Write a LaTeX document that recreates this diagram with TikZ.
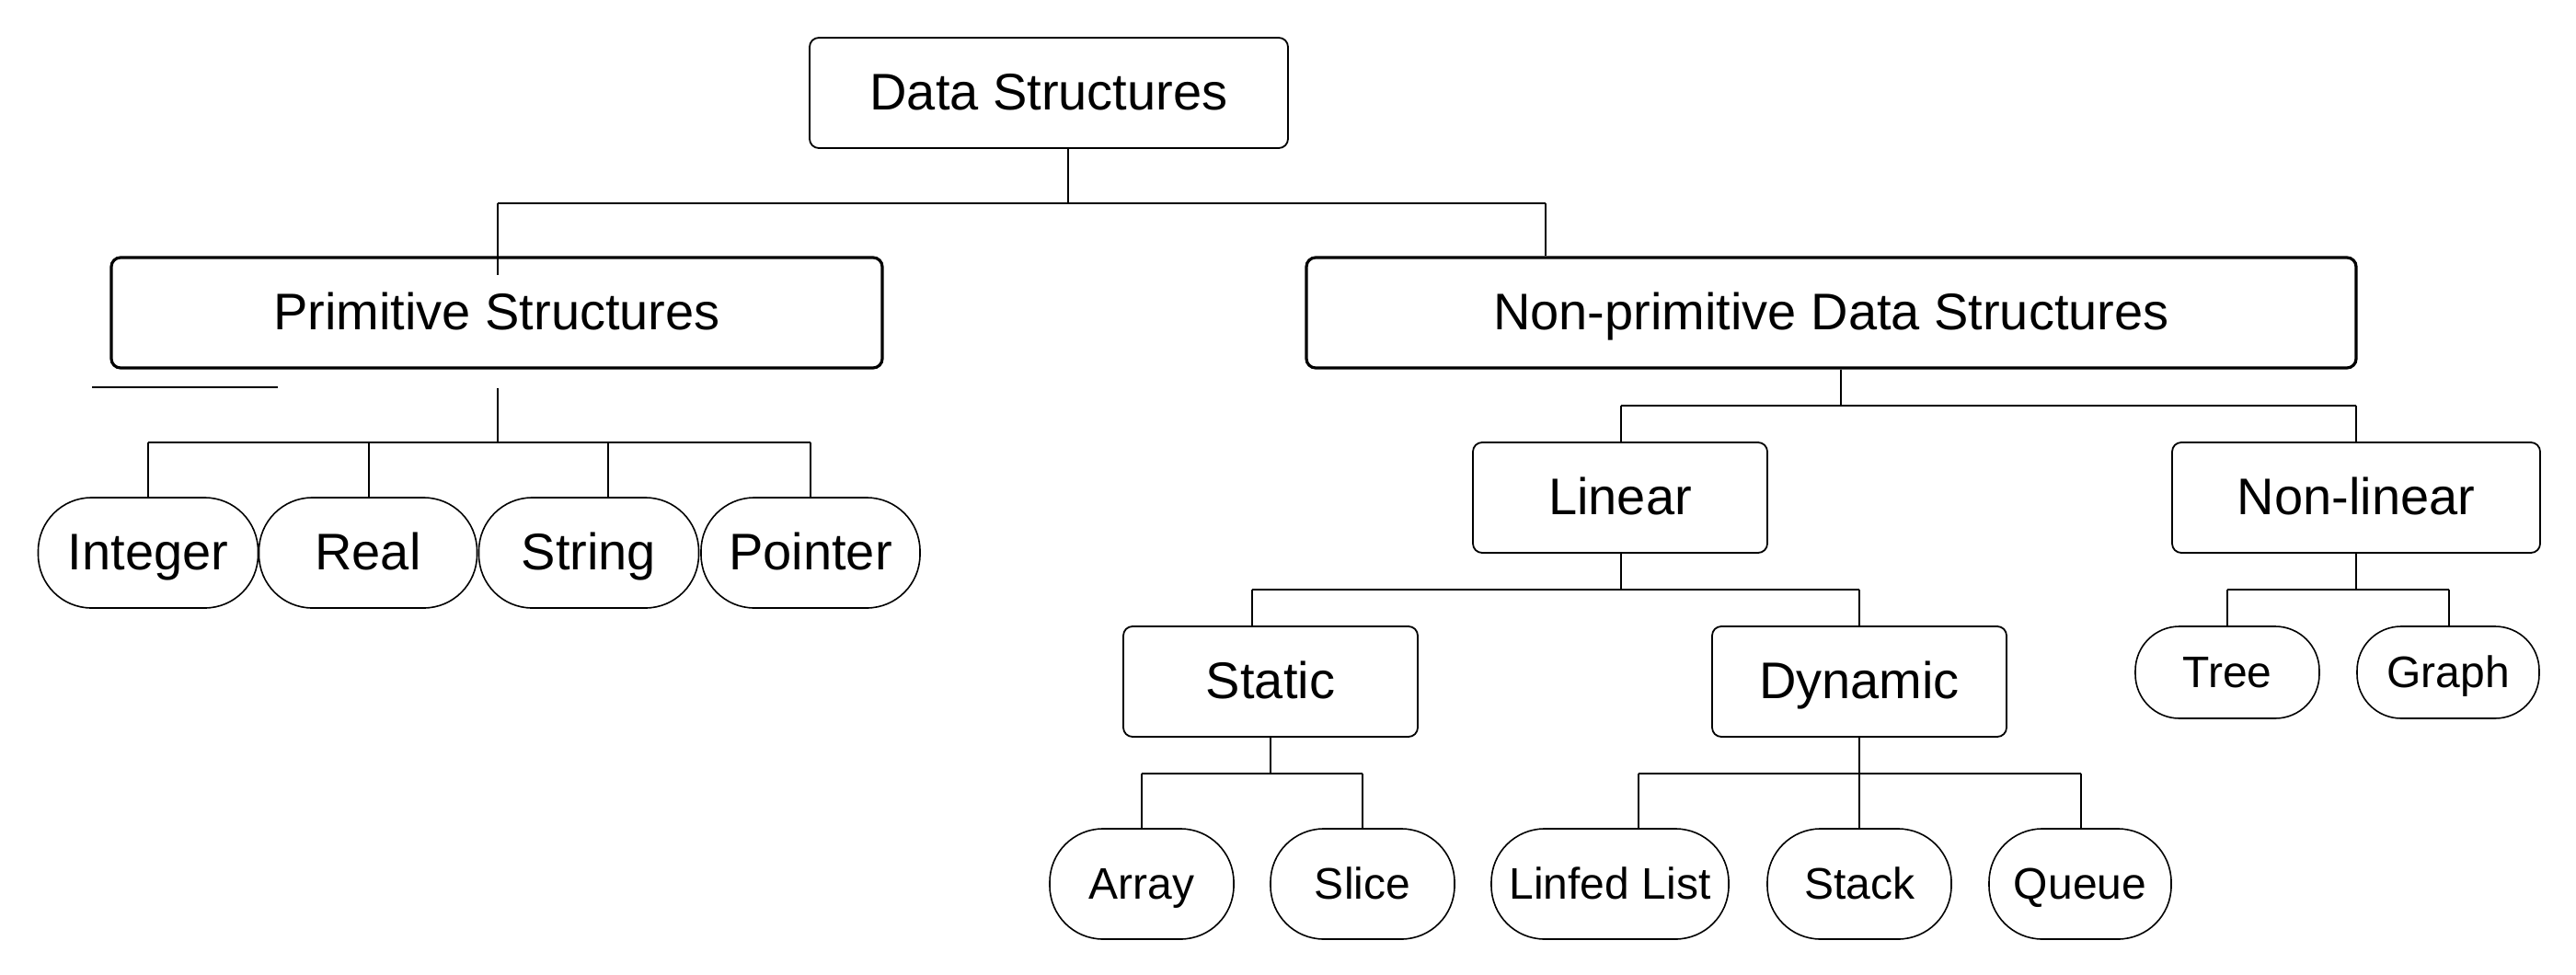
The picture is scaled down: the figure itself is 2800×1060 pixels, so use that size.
\documentclass[tikz,border=0pt]{standalone}
\usepackage{fontspec}
\setmainfont{Liberation Sans}
\usetikzlibrary{calc}
\tikzset{
  base/.style={draw, inner sep=0pt, align=center},
  bigfont/.style={font=\fontsize{28}{32}\selectfont, text height=20pt, text depth=1.5pt},
  smallfont/.style={font=\fontsize{24}{28}\selectfont, text height=17.2pt, text depth=1.2pt},
  box/.style={base, bigfont, rounded corners=5pt, line width=0.9pt, minimum height=60pt},
  bigbox/.style={box, line width=1.6pt},
  leaf/.style={base, bigfont, rounded corners=29pt, line width=0.8pt, minimum height=60pt},
  sleaf/.style={base, smallfont, rounded corners=29pt, line width=0.8pt, minimum height=60pt},
  tleaf/.style={base, smallfont, rounded corners=24pt, line width=0.8pt, minimum height=50pt},
  conn/.style={line width=0.9pt},
  bar/.style={line width=1.1pt},
}
\begin{document}
\begin{tikzpicture}[x=0.5pt,y=-0.5pt]
\useasboundingbox (0,0) rectangle (2800,1060);
% nodes
\node[box, minimum width=260pt] (ds) at (1140,101) {Data Structures};
\node[bigbox, minimum width=419pt] (prim) at (540,340) {Primitive Structures};
\node[bigbox, minimum width=570.5pt] (np) at (1990.5,340) {Non-primitive Data Structures};
\node[leaf, minimum width=119.5pt] (int) at (161,601) {Integer};
\node[leaf, minimum width=118.5pt] (real) at (400,601) {Real};
\node[leaf, minimum width=119.5pt] (str) at (640,601) {String};
\node[leaf, minimum width=119pt] (ptr) at (881,601) {Pointer};
\node[box, minimum width=160pt] (lin) at (1761,541) {Linear};
\node[box, minimum width=200pt] (nlin) at (2561,541) {Non-linear};
\node[box, minimum width=160pt] (stat) at (1381,741) {Static};
\node[box, minimum width=160pt] (dyn) at (2021,741) {Dynamic};
\node[tleaf, minimum width=100pt] (tree) at (2421,731) {Tree};
\node[tleaf, minimum width=99pt] (graph) at (2661,731) {Graph};
\node[sleaf, minimum width=100pt] (arr) at (1241,961) {Array};
\node[sleaf, minimum width=100pt] (slice) at (1481,961) {Slice};
\node[sleaf, minimum width=129pt] (ll) at (1750,961) {Linfed List};
\node[sleaf, minimum width=100pt] (stack) at (2021,961) {Stack};
\node[sleaf, minimum width=99pt] (queue) at (2261,961) {Queue};
% junction coordinates
\coordinate (j1) at (1161,221);
\coordinate (j1a) at (541,221);
\coordinate (j1b) at (1680,221);
\coordinate (j2) at (541,481);
\coordinate (j2a) at (161,481);
\coordinate (j2b) at (401,481);
\coordinate (j2c) at (661,481);
\coordinate (j2d) at (881,481);
\coordinate (j3) at (2001,441);
\coordinate (j3a) at (1762,441);
\coordinate (j3b) at (2561,441);
\coordinate (j4) at (1762,641);
\coordinate (j4a) at (1361,641);
\coordinate (j4b) at (2021,641);
\coordinate (j5) at (2561,641);
\coordinate (j5a) at (2421,641);
\coordinate (j5b) at (2662,641);
\coordinate (j6) at (1381,841);
\coordinate (j6a) at (1241,841);
\coordinate (j6b) at (1481,841);
\coordinate (j7) at (2021,841);
\coordinate (j7a) at (1781,841);
\coordinate (j7b) at (2262,841);
\coordinate (s1) at (100,421);
\coordinate (s2) at (302,421);
% Data Structures
\draw[conn] (ds.south -| j1) -- (j1);
\draw[bar] (j1a) -- (j1b);
\draw[conn] (j1a) -- ($(j1a |- prim.north)+(0,21)$);
\draw[conn] (j1b) -- (j1b |- np.north);
% stray line
\draw[conn] (s1) -- (s2);
% Primitive
\draw[conn] ($(j2 |- prim.south)+(0,20)$) -- (j2);
\draw[bar] (j2a) -- (j2d);
\draw[conn] (j2a) -- (j2a |- int.north);
\draw[conn] (j2b) -- (j2b |- real.north);
\draw[conn] (j2c) -- (j2c |- str.north);
\draw[conn] (j2d) -- (j2d |- ptr.north);
% Non-primitive
\draw[conn] (np.south -| j3) -- (j3);
\draw[bar] (j3a) -- (j3b);
\draw[conn] (j3a) -- (j3a |- lin.north);
\draw[conn] (j3b) -- (j3b |- nlin.north);
% Linear
\draw[conn] (lin.south -| j4) -- (j4);
\draw[bar] (j4a) -- (j4b);
\draw[conn] (j4a) -- (j4a |- stat.north);
\draw[conn] (j4b) -- (j4b |- dyn.north);
% Non-linear
\draw[conn] (nlin.south -| j5) -- (j5);
\draw[bar] (j5a) -- (j5b);
\draw[conn] (j5a) -- (j5a |- tree.north);
\draw[conn] (j5b) -- (j5b |- graph.north);
% Static
\draw[conn] (stat.south -| j6) -- (j6);
\draw[bar] (j6a) -- (j6b);
\draw[conn] (j6a) -- (j6a |- arr.north);
\draw[conn] (j6b) -- (j6b |- slice.north);
% Dynamic
\draw[conn] (dyn.south) -- (stack.north);
\draw[bar] (j7a) -- (j7b);
\draw[conn] (j7a) -- (j7a |- ll.north);
\draw[conn] (j7b) -- (j7b |- queue.north);
\end{tikzpicture}
\end{document}
